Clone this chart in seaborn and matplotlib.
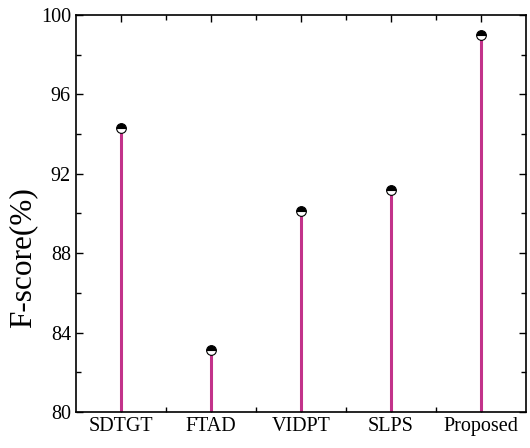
import numpy as np
import matplotlib
matplotlib.use("Agg")
import matplotlib.pyplot as plt
import seaborn as sns
from matplotlib.ticker import MultipleLocator, FixedLocator

methods = ["SDTGT", "FTAD", "VIDPT", "SLPS", "Proposed"]
fscore = [94.3, 83.15, 90.1, 91.2, 99.0]

sns.set_theme(style="ticks")
plt.rcParams["font.family"] = ["Liberation Serif", "DejaVu Serif"]

fig = plt.figure(figsize=(5.3, 4.48), dpi=100)
ax = fig.add_axes([0.143, 0.080, 0.849, 0.887])

pos = np.arange(len(methods))
stem_color = "#C2338A"
ax.vlines(pos, 80, fscore, color=stem_color, linewidth=2.2, zorder=2)
ax.plot(pos, fscore, linestyle="none", marker="o", markersize=7,
        fillstyle="top", markerfacecolor="black", markerfacecoloralt="white",
        markeredgecolor="black", markeredgewidth=0.8, zorder=3)

ax.set_xlim(-0.5, 4.5)
ax.set_ylim(80, 100)
ax.set_xticks(pos)
ax.set_xticklabels(methods)
ax.xaxis.set_minor_locator(FixedLocator(pos[:-1] + 0.5))
ax.yaxis.set_major_locator(MultipleLocator(4))
ax.yaxis.set_minor_locator(MultipleLocator(2))

for s in ax.spines.values():
    s.set_linewidth(1.2)
    s.set_color("black")
ax.tick_params(which="both", direction="in", top=True, right=True,
               colors="black", labelsize=14.5, width=1.0)
ax.tick_params(which="major", length=5)
ax.tick_params(which="minor", length=3.5)

ax.set_ylabel("F-score(%)", fontsize=22.5, color="black")
ax.yaxis.set_label_coords(-0.086, 0.39)

fig.savefig("out.png", dpi=100)
